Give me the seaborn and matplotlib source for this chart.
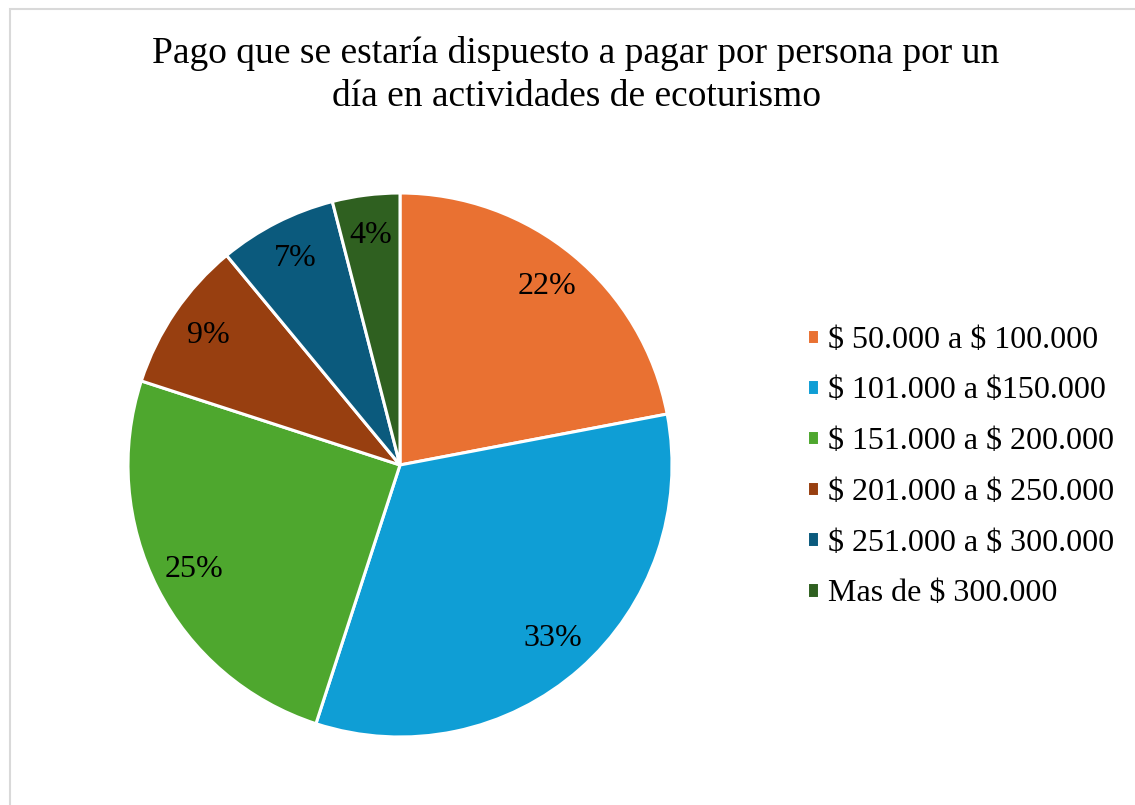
import matplotlib
matplotlib.use("Agg")
import matplotlib.pyplot as plt
import seaborn as sns
from matplotlib.patches import Rectangle

# Data
categories = [
    r"\$ 50.000 a \$ 100.000",
    r"\$ 101.000 a \$150.000",
    r"\$ 151.000 a \$ 200.000",
    r"\$ 201.000 a \$ 250.000",
    r"\$ 251.000 a \$ 300.000",
    r"Mas de \$ 300.000",
]
shares = [22, 33, 25, 9, 7, 4]
colors = ["#E97132", "#0F9ED5", "#4EA72E", "#983F10", "#0B5A7D", "#2F6020"]

title = "Pago que se estaría dispuesto a pagar por persona por un\ndía en actividades de ecoturismo"

sns.set_theme(style="white")
plt.rcParams["font.family"] = ["Liberation Serif", "DejaVu Serif"]
plt.rcParams["text.color"] = "black"

W, H = 1135, 805
fig = plt.figure(figsize=(W / 100, H / 100), dpi=100)
fig.patch.set_facecolor("white")

# thin grey frame (only top and left visible in the crop)
fig.patches.append(Rectangle((10 / W, -0.05), 1.2, (H - 9) / H + 0.05,
                             transform=fig.transFigure, fill=False,
                             edgecolor="#D9D9D9", linewidth=1.5))

# pie axes: centre (400, 465), radius 272 px
cx, cy, r = 400, 465, 272
ax = fig.add_axes([(cx - r) / W, (H - cy - r) / H, 2 * r / W, 2 * r / H])

wedges, _, autotexts = ax.pie(
    shares,
    colors=colors,
    startangle=90,
    counterclock=False,
    autopct="%d%%",
    pctdistance=0.85,
    wedgeprops=dict(edgecolor="white", linewidth=2.2),
    textprops=dict(fontsize=23, color="black"),
)
ax.set_xlim(-1, 1)
ax.set_ylim(-1, 1)
ax.set_aspect("equal")
ax.axis("off")

fig.text(576 / W, 1 - 75 / H, title, ha="center", va="center",
         fontsize=27, linespacing=1.3, color="black")

fig.legend(
    wedges, categories,
    loc="center left",
    bbox_to_anchor=(807 / W, 1 - 467 / H),
    frameon=False,
    fontsize=23,
    handlelength=0.36,
    handleheight=0.36,
    handletextpad=0.3,
    labelspacing=0.68,
    borderpad=0,
    borderaxespad=0,
)

fig.savefig("out.png", dpi=100)
